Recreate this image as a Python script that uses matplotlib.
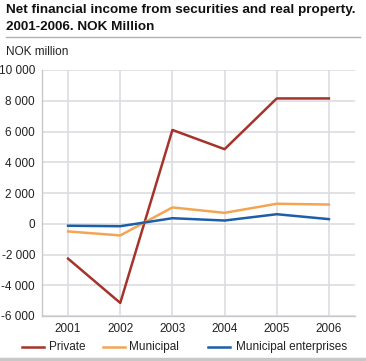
import numpy as np
import matplotlib
matplotlib.use("Agg")
import matplotlib.pyplot as plt
from matplotlib.lines import Line2D

plt.rcParams["font.family"] = ["Liberation Sans", "DejaVu Sans"]

years = [2001, 2002, 2003, 2004, 2005, 2006]
private = [-2270, -5150, 6100, 4850, 8150, 8150]
municipal = [-500, -760, 1060, 710, 1300, 1250]
enterprises = [-130, -160, 360, 210, 620, 300]

y_ticks = [-6000, -4000, -2000, 0, 2000, 4000, 6000, 8000, 10000]

series = [
    ("Private", private, "#a4342b"),
    ("Municipal", municipal, "#f4a553"),
    ("Municipal enterprises", enterprises, "#1c5ea8"),
]

W, H = 366, 361
fig = plt.figure(figsize=(W / 100, H / 100), dpi=100)
ax = fig.add_axes([42 / W, 1 - 316 / H, (355 - 42) / W, (316 - 70) / H])

for name, vals, col in series:
    ax.plot(years, vals, color=col, linewidth=1.8, label=name)

ax.set_xlim(2000.5, 2006.5)
ax.set_ylim(-6000, 10000)
ax.set_xticks(years)
ax.set_yticks(y_ticks)
ax.set_yticklabels([f"{v:,}".replace(",", " ") for v in y_ticks])
ax.grid(True, color="#dcdce2", linewidth=1.2)
ax.set_axisbelow(True)
ax.tick_params(length=0, labelsize=8.5, colors="#222222", pad=5)
for s in ["top", "right"]:
    ax.spines[s].set_visible(False)
for s in ["left", "bottom"]:
    ax.spines[s].set_color("#c8c8cc")
    ax.spines[s].set_linewidth(1.0)

# title (two lines placed by baseline), rule and unit label
title_lines = ["Net financial income from securities and real property.",
               "2001-2006. NOK Million"]
for line, base in zip(title_lines, [13.5, 29.5]):
    fig.text(6 / W, 1 - base / H, line, fontsize=9.7, fontweight="bold",
             va="baseline", ha="left", color="#111111")
fig.add_artist(Line2D([6 / W, 360 / W], [1 - 37 / H] * 2, color="#b0b0b0", linewidth=1))
fig.text(6 / W, 1 - 55 / H, "NOK million", fontsize=8.5, va="baseline", ha="left", color="#222222")

# legend row, drawn by hand to match spacing
leg_y = 1 - 347 / H
leg_items = [(22, 49), (103, 129), (208, 236)]
for (x0, xt), (name, _, col) in zip(leg_items, series):
    fig.add_artist(Line2D([x0 / W, (x0 + 22) / W], [leg_y] * 2, color=col, linewidth=1.8))
    fig.text(xt / W, leg_y, name, fontsize=8.5, va="center", ha="left", color="#222222")
fig.add_artist(Line2D([0, 1], [1 - 359 / H] * 2, color="#c8c8c8", linewidth=2.5))

fig.savefig("out.png", dpi=100)
